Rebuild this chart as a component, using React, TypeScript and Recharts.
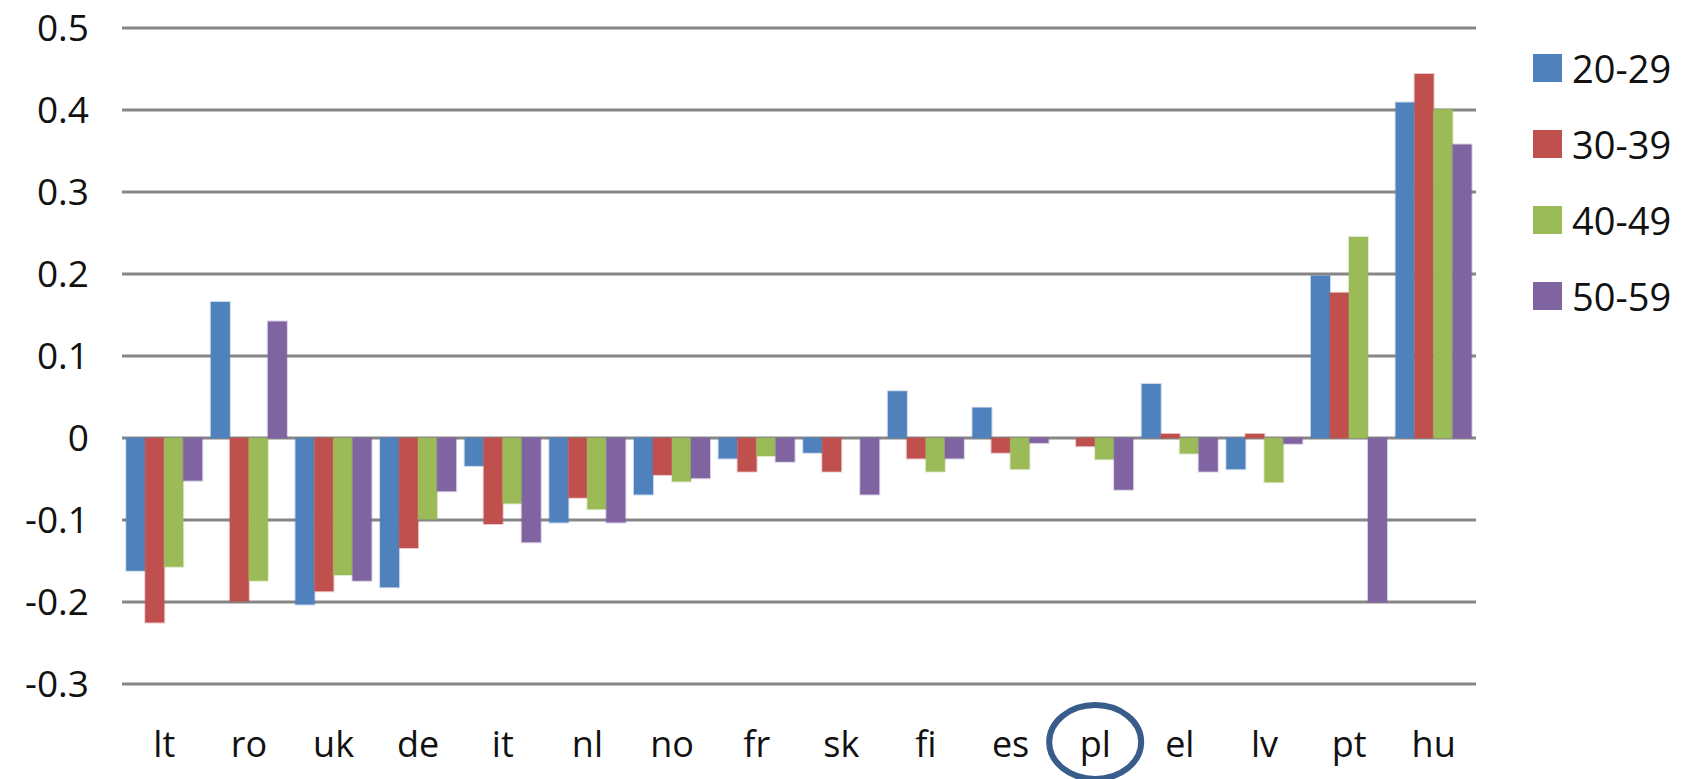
import { BarChart, Bar, XAxis, YAxis, CartesianGrid, Legend } from "recharts";

const categories = ["lt", "ro", "uk", "de", "it", "nl", "no", "fr", "sk", "fi", "es", "pl", "el", "lv", "pt", "hu"];
const ageGroups = ["20-29", "30-39", "40-49", "50-59"];
const groupColors = ["#4F81BD", "#C0504D", "#9BBB59", "#8064A2"];

const age20to29 = [-0.162, 0.166, -0.203, -0.182, -0.034, -0.103, -0.069, -0.025, -0.018, 0.057, 0.037, 0, 0.066, -0.038, 0.198, 0.409];
const age30to39 = [-0.225, -0.199, -0.187, -0.134, -0.105, -0.073, -0.045, -0.041, -0.041, -0.025, -0.018, -0.01, 0.005, 0.005, 0.177, 0.444];
const age40to49 = [-0.157, -0.174, -0.167, -0.099, -0.08, -0.087, -0.053, -0.022, 0, -0.041, -0.038, -0.026, -0.019, -0.054, 0.245, 0.401];
const age50to59 = [-0.052, 0.142, -0.174, -0.065, -0.127, -0.103, -0.049, -0.029, -0.069, -0.025, -0.006, -0.063, -0.041, -0.007, -0.2, 0.358];

const yTicks = [-0.3, -0.2, -0.1, 0, 0.1, 0.2, 0.3, 0.4, 0.5];
const circledCountry = "pl";

const seriesValues = [age20to29, age30to39, age40to49, age50to59];

const data = categories.map((country, i) => {
  const row: Record<string, string | number> = { country };
  ageGroups.forEach((g, k) => {
    row[g] = seriesValues[k][i];
  });
  return row;
});

const FONT = "'Open Sans', 'DejaVu Sans', sans-serif";

function CountryTick({ x, y, payload }: any) {
  return (
    <g transform={`translate(${x},${y})`}>
      <text x={0} y={0} dy={73} textAnchor="middle" fontSize={36} fontFamily={FONT} fill="#111">
        {payload.value}
      </text>
      {payload.value === circledCountry && (
        <ellipse cx={0} cy={58} rx={46} ry={37} fill="none" stroke="#385D8A" strokeWidth={6} />
      )}
    </g>
  );
}

function AgeLegend({ payload }: any) {
  const items = payload && payload.length
    ? payload.map((p: any) => ({ label: p.value, color: p.color }))
    : ageGroups.map((g, i) => ({ label: g, color: groupColors[i] }));
  return (
    <div style={{ display: "flex", flexDirection: "column" }}>
      {items.map((it: any) => (
        <div key={it.label} style={{ display: "flex", alignItems: "center", height: 76 }}>
          <span style={{ width: 29, height: 28, background: it.color, marginRight: 10, display: "inline-block" }} />
          <span style={{ fontSize: 38, fontFamily: FONT, color: "#111", lineHeight: 1 }}>{it.label}</span>
        </div>
      ))}
    </div>
  );
}

export default function App() {
  return (
    <div style={{ width: 1694, height: 779, background: "#fff" }}>
      <style>{"body{margin:0}"}</style>
      <BarChart
        width={1694}
        height={779}
        data={data}
        margin={{ top: 28, right: 218, bottom: 0, left: 0 }}
        barCategoryGap="5%"
        barGap={0}
      >
        <CartesianGrid vertical={false} stroke="#868686" strokeWidth={3} />
        <XAxis
          dataKey="country"
          height={95}
          interval={0}
          axisLine={false}
          tickLine={false}
          tickSize={0}
          tickMargin={0}
          tick={<CountryTick />}
        />
        <YAxis
          width={122}
          domain={[-0.3, 0.5]}
          ticks={yTicks}
          interval={0}
          axisLine={false}
          tickLine={false}
          tickSize={0}
          tickMargin={33}
          tick={{ fontSize: 37, fill: "#111", fontFamily: FONT }}
          tickFormatter={(v: number) => String(v)}
        />
        <Legend
          layout="vertical"
          align="center"
          verticalAlign="middle"
          content={<AgeLegend />}
          wrapperStyle={{ left: 1533, top: 30, width: 160 }}
        />
        {ageGroups.map((g, i) => (
          <Bar
            key={g}
            dataKey={g}
            name={g}
            fill={groupColors[i]}
            stroke={groupColors[i]}
            strokeOpacity={0.3}
            strokeWidth={2}
            isAnimationActive={false}
          />
        ))}
      </BarChart>
    </div>
  );
}
